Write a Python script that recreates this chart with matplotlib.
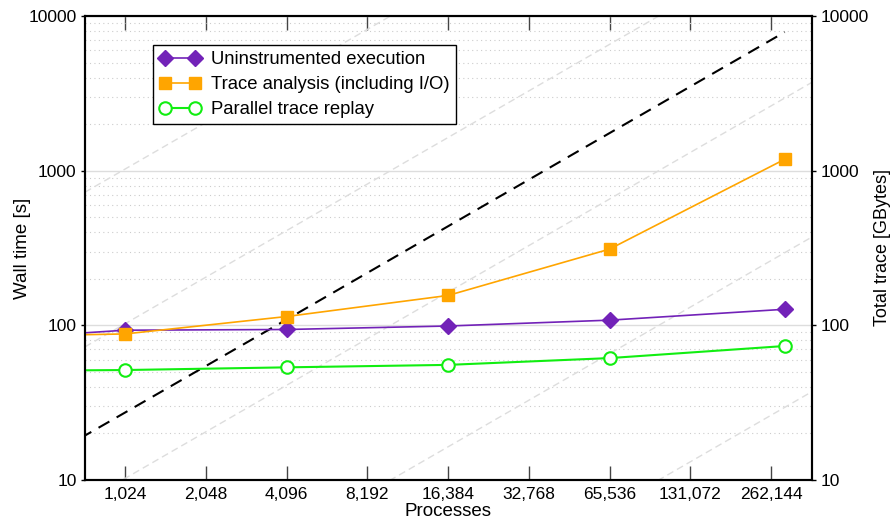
import matplotlib.pyplot as plt
from matplotlib.ticker import FixedLocator, FixedFormatter, LogLocator, NullFormatter

plt.rcParams['font.family'] = ['Liberation Sans', 'DejaVu Sans']

# Data (first point at 512 lies left of the visible range)
procs = [512, 1024, 4096, 16384, 65536, 294912]
uninstrumented = [86, 93, 94, 99, 108, 127]
trace_analysis = [86, 88, 114, 156, 311, 1185]
trace_replay = [51, 51.4, 53.5, 55.5, 61.4, 73.5]
total_trace = [13.7, 27.3, 109, 437, 1749, 7870]

# reference lines of constant GBytes per process
ref_rates = [0.0001, 0.001, 0.01, 0.1, 1.0]

xticks = [1024, 2048, 4096, 8192, 16384, 32768, 65536, 131072, 262144]
xlabels = ["1,024", "2,048", "4,096", "8,192", "16,384", "32,768", "65,536", "131,072", "262,144"]

fig = plt.figure(figsize=(8.9, 5.24), dpi=100)
ax = fig.add_axes([85 / 890, 44 / 524, 727 / 890, 464 / 524])

xmin, xmax = 726, 372700
ymin, ymax = 10, 10000

# background reference lines
for r in ref_rates:
    ax.plot([xmin, xmax], [r * xmin, r * xmax], color='#dddddd', lw=1,
            dashes=(5, 3), zorder=1)

ax.plot(procs, total_trace, color='black', lw=1.5, dashes=(6, 4), zorder=2)

ax.plot(procs, uninstrumented, color='#7222b8', lw=1.2, marker='D', ms=8,
        label='Uninstrumented execution', zorder=3)
ax.plot(procs, trace_analysis, color='#ffa500', lw=1.2, marker='s', ms=8,
        label='Trace analysis (including I/O)', zorder=4)
ax.plot(procs, trace_replay, color='#11ee11', lw=1.5, marker='o', ms=9,
        mfc='white', mew=1.5, label='Parallel trace replay', zorder=5)

ax.set_xscale('log', base=2)
ax.set_yscale('log')
ax.set_xlim(xmin, xmax)
ax.set_ylim(ymin, ymax)

ax.xaxis.set_major_locator(FixedLocator(xticks))
ax.xaxis.set_major_formatter(FixedFormatter(xlabels))
ax.xaxis.set_minor_locator(FixedLocator([]))
ax.yaxis.set_major_locator(FixedLocator([10, 100, 1000, 10000]))
ax.yaxis.set_major_formatter(FixedFormatter(["10", "100", "1000", "10000"]))
ax.yaxis.set_minor_locator(LogLocator(base=10, subs=range(2, 10)))
ax.yaxis.set_minor_formatter(NullFormatter())

ax.grid(axis='y', which='major', color='#dddddd', lw=1, ls='-', zorder=0)
ax.grid(axis='y', which='minor', color='#cccccc', lw=0.8, ls=(0, (1, 3)), zorder=0)
ax.set_axisbelow(True)

ax.tick_params(axis='x', which='major', direction='in', length=10, width=1,
               color='#444444', top=True, labelsize=12.5, pad=5)
ax.tick_params(axis='y', which='major', direction='out', length=3, width=1,
               labelsize=12.5, pad=3)
ax.tick_params(axis='y', which='minor', length=0)

for s in ax.spines.values():
    s.set_linewidth(1.5)

ax.set_xlabel('Processes', fontsize=13.5, labelpad=1)
ax.set_ylabel('Wall time [s]', fontsize=13.5, labelpad=-2)

ax2 = ax.twinx()
ax2.set_yscale('log')
ax2.set_ylim(ymin, ymax)
ax2.yaxis.set_major_locator(FixedLocator([10, 100, 1000, 10000]))
ax2.yaxis.set_major_formatter(FixedFormatter(["10", "100", "1000", "10000"]))
ax2.yaxis.set_minor_locator(FixedLocator([]))
ax2.tick_params(axis='y', direction='out', length=3, width=1, labelsize=12.5, pad=3)
ax2.set_ylabel('Total trace [GBytes]', fontsize=13, labelpad=4)
for s in ax2.spines.values():
    s.set_linewidth(1.5)

leg = ax.legend(loc='upper left', bbox_to_anchor=(0.0935, 0.9375),
                borderaxespad=0, numpoints=2, handlelength=2.2, fontsize=13.3,
                fancybox=False, framealpha=1, edgecolor='black',
                borderpad=0.35, labelspacing=0.42, handletextpad=0.6)
leg.get_frame().set_linewidth(1)

fig.savefig('out.png', dpi=100)
